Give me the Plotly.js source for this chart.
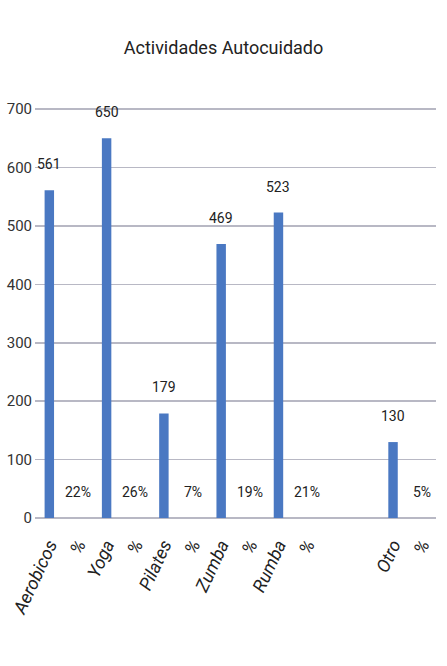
<!DOCTYPE html>
<html><head><meta charset="utf-8">
<script src="https://cdn.plot.ly/plotly-3.0.1.min.js"></script>
<style>html,body{margin:0;padding:0;background:#fff}#c{width:447px;height:666px}</style>
</head><body><div id="c"></div>
<script>
const categories = ["Aerobicos", "%1", "Yoga", "%2", "Pilates", "%3", "Zumba", "%4", "Rumba", "%5", "e1", "e2", "Otro", "%6"];
const tickLabels = ["Aerobicos", "%", "Yoga", "%", "Pilates", "%", "Zumba", "%", "Rumba", "%", "", "", "Otro", "%"];
const activities = ["Aerobicos", "Yoga", "Pilates", "Zumba", "Rumba", "Otro"];
const counts = [561, 650, 179, 469, 523, 130];
const pctSlots = ["%1", "%2", "%3", "%4", "%5", "%6"];
const percents = [22, 26, 7, 19, 21, 5];

const font = "Roboto, sans-serif";
const annotations = [];
activities.forEach((a, i) => annotations.push({
  x: a, y: counts[i], xref: "x", yref: "y", text: String(counts[i]),
  showarrow: false, yshift: 26, font: {family: font, size: 14, color: "#222"}
}));
pctSlots.forEach((p, i) => annotations.push({
  x: p, y: 0, xref: "x", yref: "y", text: percents[i] + "%",
  showarrow: false, yshift: 26, font: {family: font, size: 14, color: "#222"}
}));

Plotly.newPlot("c", [{
  type: "bar", x: activities, y: counts,
  marker: {color: "#4a78c2"}, width: 0.33, hoverinfo: "skip"
}], {
  width: 447, height: 666,
  margin: {l: 35, r: 11, t: 108, b: 148},
  paper_bgcolor: "#fff", plot_bgcolor: "#fff",
  title: {text: "Actividades Autocuidado", x: 0.5, xanchor: "center", y: 0.928, yanchor: "middle",
    font: {family: font, size: 18, color: "#222"}},
  showlegend: false,
  xaxis: {
    type: "category", categoryorder: "array", categoryarray: categories,
    tickmode: "array", tickvals: categories, ticktext: tickLabels,
    tickangle: -65, showgrid: false, zeroline: false, showline: false,
    ticklabelstandoff: 12,
    tickfont: {family: font, size: 18, style: "italic", color: "#222"}, range: [-0.5, 13.5]
  },
  yaxis: {
    range: [0, 702], tickvals: [0, 100, 200, 300, 400, 500, 600, 700], showgrid: true, gridcolor: "#b8b8c4", gridwidth: 1.5,
    zeroline: true, zerolinecolor: "#b8b8c4", zerolinewidth: 1.5, showline: false,
    tickfont: {family: font, size: 15, color: "#333"}, ticklen: 0, ticklabelstandoff: 2
  },
  annotations: annotations
}, {staticPlot: true});
</script></body></html>
